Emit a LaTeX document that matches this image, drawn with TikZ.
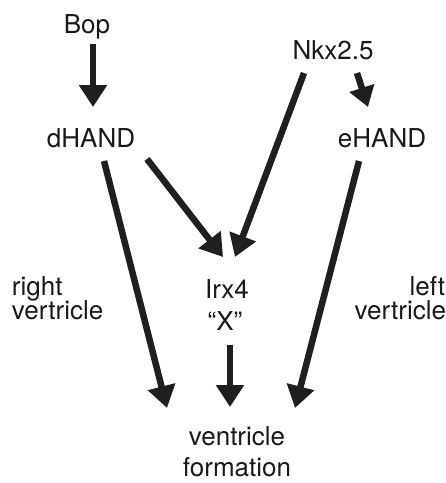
\documentclass[tikz,border=0pt]{standalone}
\usepackage{fontspec}
\setmainfont{TeX Gyre Heros}
\usetikzlibrary{arrows.meta,calc}
\begin{document}
\begin{tikzpicture}[x=1pt,y=-1pt,
  lbl/.style={inner sep=0pt,outer sep=0pt,font=\fontsize{26}{30}\selectfont,text=black!90},
  arr/.style={line width=6.5pt,draw=black!88,-{Triangle[length=22pt,width=27pt]}}]
\useasboundingbox (0,0) rectangle (446,483);
% nodes (base anchors)
\node[lbl,anchor=base] (bop) at (87,33) {Bop};
\node[lbl,anchor=base] (nkx) at (333,59) {Nkx2.5};
\node[lbl,anchor=base] (dhand) at (91,147) {dHAND};
\node[lbl,anchor=base] (ehand) at (382,147) {eHAND};
\node[lbl,anchor=base] (irx) at (227,298) {Irx4};
\node[lbl,anchor=base] (xq) at (225,330) {“X”};
\node[lbl,anchor=base west] (rv1) at (12,295) {right};
\node[lbl,anchor=base west] (rv2) at (12,319) {vertricle};
\node[lbl,anchor=base east] (lv1) at (445,295) {left};
\node[lbl,anchor=base east] (lv2) at (446,319) {vertricle};
\node[lbl,anchor=base] (vent) at (237,445) {ventricle};
\node[lbl,anchor=base] (form) at (237,476) {formation};
% connectors
\draw[arr] ($(bop.base)+(6,11)$) -- ($(dhand.base)+(2,-40)$);
\draw[arr,-{Triangle[length=20pt,width=25pt]}] ($(nkx.base)+(24,14)$) -- ($(ehand.base)+(-14,-40)$);
\draw[arr] ($(nkx.base)+(-29,14)$) -- ($(irx.base)+(8,-41)$);
\draw[arr] ($(dhand.base)+(56,12)$) -- ($(irx.base)+(-4,-41)$);
\draw[arr] ($(dhand.base)+(13,14)$) -- ($(vent.base)+(-70,-37)$);
\draw[arr] ($(ehand.base)+(-23,14)$) -- ($(vent.base)+(58,-37)$);
\draw[arr] ($(xq.base)+(5,15)$) -- ($(vent.base)+(-7,-38)$);
\end{tikzpicture}
\end{document}
